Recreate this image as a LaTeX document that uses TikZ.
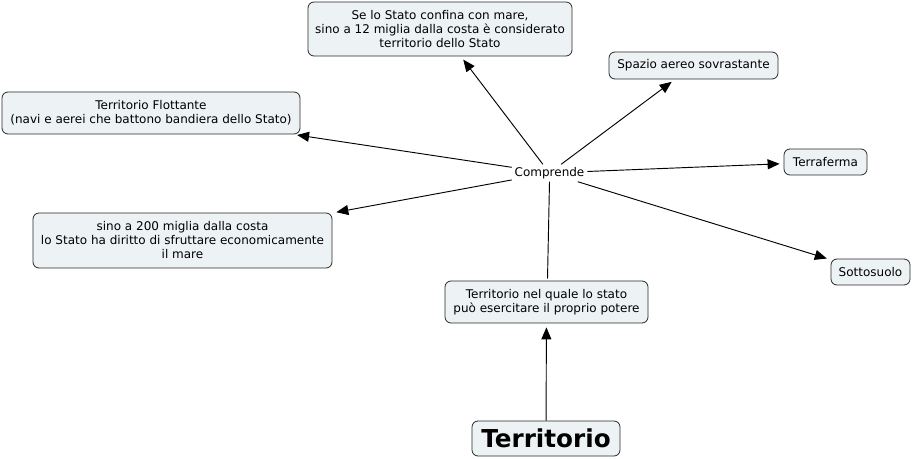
\documentclass[tikz,border=0pt]{standalone}
\usepackage{fontspec}
\setmainfont{DejaVu Sans}
\usepackage{tikz}
\usetikzlibrary{arrows.meta,positioning}
\definecolor{cmapFill}{RGB}{237,243,245}
\definecolor{cmapLine}{RGB}{40,40,40}

\begin{document}
\begin{tikzpicture}[x=0.75pt,y=-0.75pt,
  concept/.style={draw=cmapLine, fill=cmapFill, rounded corners=4.5pt, line width=0.6pt,
    align=center, font=\fontsize{9}{10.5}\selectfont, inner xsep=4pt, inner ysep=2.5pt},
  linkword/.style={font=\fontsize{9}{10.5}\selectfont, inner sep=2pt},
  link/.style={line width=0.7pt, black},
  linkarrow/.style={link, -{Triangle[length=9pt,width=7.5pt]}, shorten >=3pt}]
\useasboundingbox (0,0) rectangle (913,459);

\node[concept, minimum width=198pt, minimum height=40.5pt] (coast) at (440,29)
  {Se lo Stato confina con mare,\\sino a 12 miglia dalla costa è considerato\\territorio dello Stato};
\node[concept, minimum width=126.75pt, minimum height=20.25pt] (air) at (693.5,65.5) {Spazio aereo sovrastante};
\node[concept, minimum width=223.5pt, minimum height=31.5pt] (float) at (151,113)
  {Territorio Flottante\\(navi e aerei che battono bandiera dello Stato)};
\node[linkword] (incl) at (549.5,173) {Comprende};
\node[concept, minimum width=62.25pt, minimum height=19.5pt] (land) at (825.5,162) {Terraferma};
\node[concept, minimum width=224.25pt, minimum height=41.25pt] (miles) at (182.5,240.5)
  {sino a 200 miglia dalla costa\\lo Stato ha diritto di sfruttare economicamente\\il mare};
\node[concept, minimum width=59.25pt, minimum height=19.5pt] (under) at (870.5,272) {Sottosuolo};
\node[concept, minimum width=152.25pt, minimum height=31.5pt] (power) at (546.5,302)
  {Territorio nel quale lo stato\\può esercitare il proprio potere};
\node[concept, font=\fontsize{18.5}{20}\selectfont\bfseries, minimum width=111pt, minimum height=26.25pt] (terr) at (546,438.5) {Territorio};

% root and linking phrase
\draw[linkarrow] (terr) -- (power);
\draw[link] (power.north) ++(1,-2) -- (incl.south);

% concepts reached from the linking phrase
\draw[linkarrow] (incl) -- (coast);
\draw[linkarrow] (incl) -- (air);
\draw[linkarrow] (incl) -- (float);
\draw[linkarrow] (incl) -- (land);
\draw[linkarrow] (incl) -- (miles);
\draw[linkarrow] (incl) -- (under);
\end{tikzpicture}
\end{document}
